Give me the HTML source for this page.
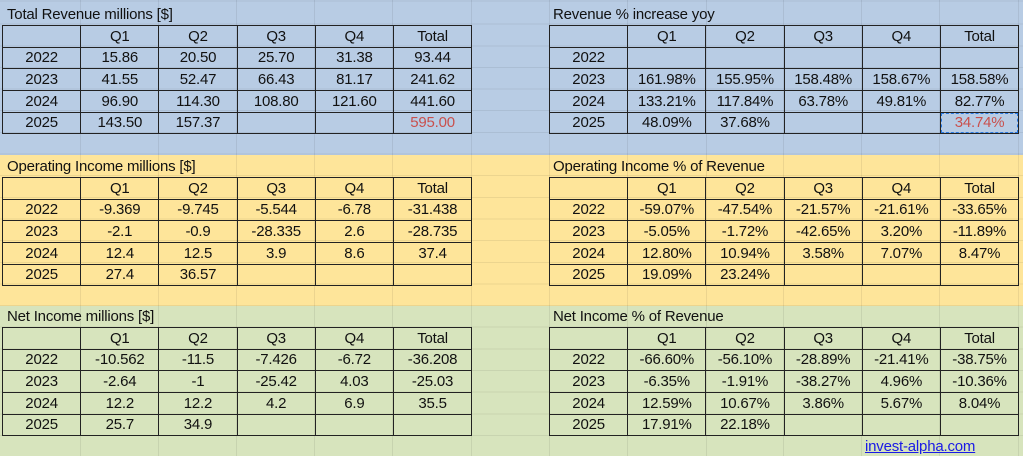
<!DOCTYPE html>
<html><head><meta charset="utf-8"><style>
*{margin:0;padding:0;box-sizing:border-box}
body{width:1023px;height:456px;overflow:hidden;position:relative;font-family:"Liberation Sans",sans-serif;font-size:15px;color:#111;letter-spacing:-0.2px}
.band{position:absolute;left:0;width:1023px}
.grid{position:absolute;left:0;top:0;width:1023px;height:456px;
background-image:repeating-linear-gradient(to bottom,transparent 0,transparent 20.65px,rgba(0,0,0,0.07) 20.65px,rgba(0,0,0,0.07) 21.65px);background-position:0 3px}
.vl{position:absolute;top:0;height:456px;width:1px;background:rgba(0,0,0,0.07)}
.t{position:absolute;border-collapse:collapse;table-layout:fixed}
.t td{border:1.3px solid #222;height:21.65px;text-align:center;width:78.2px;padding:0;line-height:19px}
.title{position:absolute;line-height:21px}
.red{color:#c9504d}
.sel{outline:1.5px dashed #2a7ae2;outline-offset:-2px}
</style></head><body>
<div class="band" style="top:0;height:155px;background:#b8cce4"></div>
<div class="band" style="top:155px;height:151px;background:#fee59a"></div>
<div class="band" style="top:306px;height:150px;background:#d7e4bd"></div>
<div class="grid"></div>
<div class="vl" style="left:80px"></div><div class="vl" style="left:158px"></div><div class="vl" style="left:236px"></div><div class="vl" style="left:314px"></div><div class="vl" style="left:392px"></div><div class="vl" style="left:471px"></div><div class="vl" style="left:549px"></div><div class="vl" style="left:627px"></div><div class="vl" style="left:706px"></div><div class="vl" style="left:783px"></div><div class="vl" style="left:861px"></div><div class="vl" style="left:939px"></div><div class="vl" style="left:1018px"></div>

<div class="title" style="left:7px;top:4px">Total Revenue millions [$]</div>
<table class="t" style="left:2px;top:25px"><tr><td></td><td>Q1</td><td>Q2</td><td>Q3</td><td>Q4</td><td>Total</td></tr>
<tr><td>2022</td><td>15.86</td><td>20.50</td><td>25.70</td><td>31.38</td><td>93.44</td></tr>
<tr><td>2023</td><td>41.55</td><td>52.47</td><td>66.43</td><td>81.17</td><td>241.62</td></tr>
<tr><td>2024</td><td>96.90</td><td>114.30</td><td>108.80</td><td>121.60</td><td>441.60</td></tr>
<tr><td>2025</td><td>143.50</td><td>157.37</td><td></td><td></td><td class="red">595.00</td></tr></table>

<div class="title" style="left:553px;top:4px">Revenue % increase yoy</div>
<table class="t" style="left:549px;top:25px"><tr><td></td><td>Q1</td><td>Q2</td><td>Q3</td><td>Q4</td><td>Total</td></tr>
<tr><td>2022</td><td></td><td></td><td></td><td></td><td></td></tr>
<tr><td>2023</td><td>161.98%</td><td>155.95%</td><td>158.48%</td><td>158.67%</td><td>158.58%</td></tr>
<tr><td>2024</td><td>133.21%</td><td>117.84%</td><td>63.78%</td><td>49.81%</td><td>82.77%</td></tr>
<tr><td>2025</td><td>48.09%</td><td>37.68%</td><td></td><td></td><td class="red sel">34.74%</td></tr></table>

<div class="title" style="left:7px;top:156px">Operating Income millions [$]</div>
<table class="t" style="left:2px;top:177px"><tr><td></td><td>Q1</td><td>Q2</td><td>Q3</td><td>Q4</td><td>Total</td></tr>
<tr><td>2022</td><td>-9.369</td><td>-9.745</td><td>-5.544</td><td>-6.78</td><td>-31.438</td></tr>
<tr><td>2023</td><td>-2.1</td><td>-0.9</td><td>-28.335</td><td>2.6</td><td>-28.735</td></tr>
<tr><td>2024</td><td>12.4</td><td>12.5</td><td>3.9</td><td>8.6</td><td>37.4</td></tr>
<tr><td>2025</td><td>27.4</td><td>36.57</td><td></td><td></td><td></td></tr></table>

<div class="title" style="left:553px;top:156px">Operating Income % of Revenue</div>
<table class="t" style="left:549px;top:177px"><tr><td></td><td>Q1</td><td>Q2</td><td>Q3</td><td>Q4</td><td>Total</td></tr>
<tr><td>2022</td><td>-59.07%</td><td>-47.54%</td><td>-21.57%</td><td>-21.61%</td><td>-33.65%</td></tr>
<tr><td>2023</td><td>-5.05%</td><td>-1.72%</td><td>-42.65%</td><td>3.20%</td><td>-11.89%</td></tr>
<tr><td>2024</td><td>12.80%</td><td>10.94%</td><td>3.58%</td><td>7.07%</td><td>8.47%</td></tr>
<tr><td>2025</td><td>19.09%</td><td>23.24%</td><td></td><td></td><td></td></tr></table>

<div class="title" style="left:7px;top:306px">Net Income millions [$]</div>
<table class="t" style="left:2px;top:327px"><tr><td></td><td>Q1</td><td>Q2</td><td>Q3</td><td>Q4</td><td>Total</td></tr>
<tr><td>2022</td><td>-10.562</td><td>-11.5</td><td>-7.426</td><td>-6.72</td><td>-36.208</td></tr>
<tr><td>2023</td><td>-2.64</td><td>-1</td><td>-25.42</td><td>4.03</td><td>-25.03</td></tr>
<tr><td>2024</td><td>12.2</td><td>12.2</td><td>4.2</td><td>6.9</td><td>35.5</td></tr>
<tr><td>2025</td><td>25.7</td><td>34.9</td><td></td><td></td><td></td></tr></table>

<div class="title" style="left:553px;top:306px">Net Income % of Revenue</div>
<table class="t" style="left:549px;top:327px"><tr><td></td><td>Q1</td><td>Q2</td><td>Q3</td><td>Q4</td><td>Total</td></tr>
<tr><td>2022</td><td>-66.60%</td><td>-56.10%</td><td>-28.89%</td><td>-21.41%</td><td>-38.75%</td></tr>
<tr><td>2023</td><td>-6.35%</td><td>-1.91%</td><td>-38.27%</td><td>4.96%</td><td>-10.36%</td></tr>
<tr><td>2024</td><td>12.59%</td><td>10.67%</td><td>3.86%</td><td>5.67%</td><td>8.04%</td></tr>
<tr><td>2025</td><td>17.91%</td><td>22.18%</td><td></td><td></td><td></td></tr></table>

<div class="title" style="left:865px;top:436px;color:#1a1ae6;text-decoration:underline">invest-alpha.com</div>
</body></html>
